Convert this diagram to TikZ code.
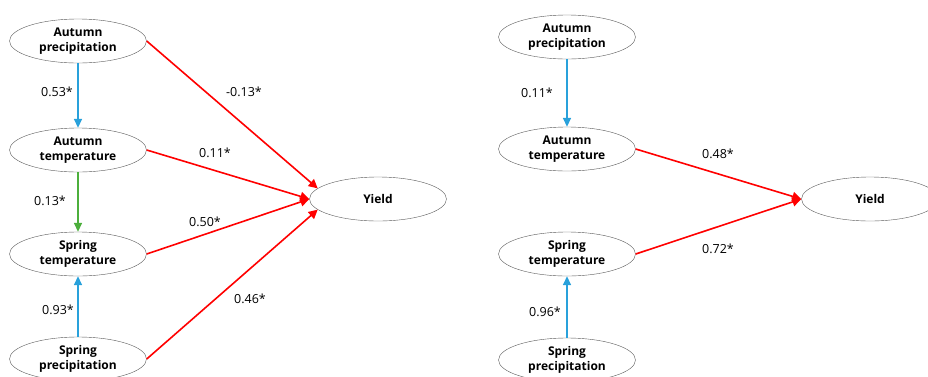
\documentclass[tikz,border=0pt]{standalone}
\usepackage{fontspec}
\setmainfont{Open Sans}
\usetikzlibrary{arrows.meta,positioning,shapes.geometric}
\definecolor{linkblue}{RGB}{41,161,219}
\definecolor{linkgreen}{RGB}{76,175,60}
\tikzset{var/.style={draw=black!65,ellipse,minimum width=137pt,minimum
height=44pt,inner sep=0pt,align=center,text=black,font=\fontsize{12}{15}\selectfont\bfseries},
coef/.style={inner sep=0pt,font=\fontsize{12.5}{15}\selectfont}}

\begin{document}
\begin{tikzpicture}[
			x=1pt,y=-1pt,
			redlink/.style={draw=red,line width=1.6pt,-{Triangle[length=9pt,width=9pt]}},
			bluelink/.style={draw=linkblue,line width=1.6pt,-{Triangle[length=9pt,width=8pt]}},
			greenlink/.style={draw=linkgreen,line width=1.6pt,-{Triangle[length=9pt,width=8pt]}}
		]
		\useasboundingbox (0,0) rectangle (928,376);
		% left model
		\node[var] (ap) at (78,41) {Autumn\\precipitation};
		\node[var] (at) at (78,150) {Autumn\\temperature};
		\node[var] (st) at (78,254) {Spring\\temperature};
		\node[var] (sp) at (78,359) {Spring\\precipitation};
		\node[var] (yield) at (378,199) {Yield};
		\draw[bluelink] (ap) -- (at);
		\draw[greenlink] (at) -- (st);
		\draw[bluelink] (sp) -- (st);
		\draw[redlink] (ap.east) -- (yield.170);
		\draw[redlink] (at.east) -- (yield.west);
		\draw[redlink] (st.east) -- (yield.west);
		\draw[redlink] (sp.east) -- (yield.190);
		\node[coef] (c1) at (57,92) {0.53*};
		\node[coef] (c2) at (50,201) {0.13*};
		\node[coef] (c3) at (58,310) {0.93*};
		\node[coef] (c4) at (244,92) {-0.13*};
		\node[coef] (c5) at (215,153) {0.11*};
		\node[coef] (c6) at (205,222) {0.50*};
		\node[coef] (c7) at (250,299) {0.46*};
		% right model
		\node[var] (rap) at (567,37) {Autumn\\precipitation};
		\node[var] (rat) at (567,149) {Autumn\\temperature};
		\node[var] (rst) at (567,254) {Spring\\temperature};
		\node[var] (rsp) at (567,360) {Spring\\precipitation};
		\node[var] (ryield) at (870,199) {Yield};
		\draw[bluelink] (rap) -- (rat);
		\draw[bluelink] (rsp) -- (rst);
		\draw[redlink] (rat.east) -- (ryield.west);
		\draw[redlink] (rst.east) -- (ryield.west);
		\node[coef] (r1) at (537,93) {0.11*};
		\node[coef] (r2) at (545,312) {0.96*};
		\node[coef] (r3) at (718,154) {0.48*};
		\node[coef] (r4) at (718,249) {0.72*};
	\end{tikzpicture}
\end{document}
